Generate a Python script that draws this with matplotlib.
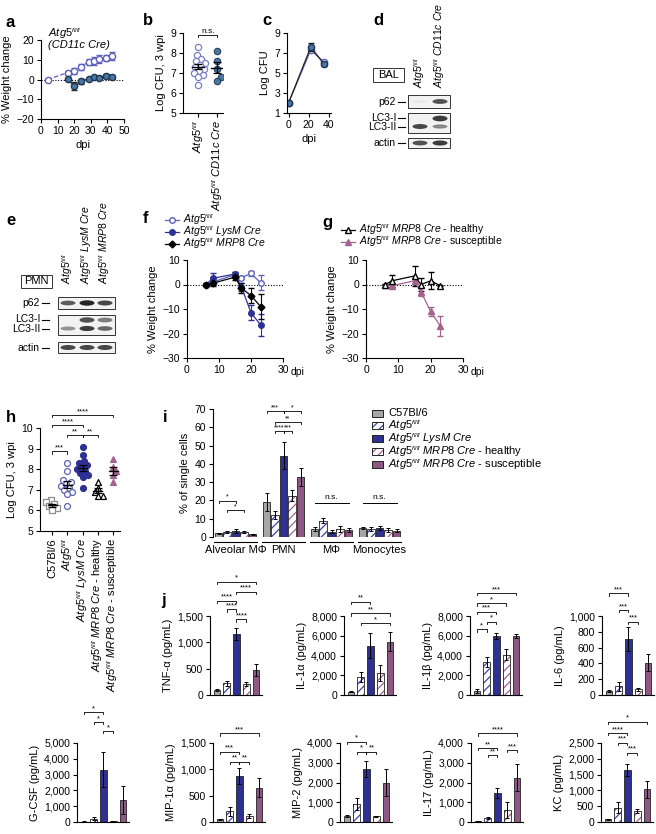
import numpy as np
import matplotlib
matplotlib.use('Agg')
import matplotlib.pyplot as plt
import matplotlib._mathtext as mtext
from matplotlib.patches import Rectangle, Ellipse
from matplotlib.ticker import FuncFormatter

plt.rcParams['font.family'] = ['Liberation Sans', 'DejaVu Sans']
plt.rcParams['mathtext.fontset'] = 'custom'
plt.rcParams['mathtext.rm'] = 'Liberation Sans'
plt.rcParams['mathtext.it'] = 'Liberation Sans:italic'
plt.rcParams['mathtext.bf'] = 'Liberation Sans:bold'
plt.rcParams['font.size'] = 7.5
plt.rcParams['axes.linewidth'] = 0.8
plt.rcParams['xtick.major.size'] = 3
plt.rcParams['ytick.major.size'] = 3
plt.rcParams['xtick.major.width'] = 0.8
plt.rcParams['ytick.major.width'] = 0.8
plt.rcParams['xtick.major.pad'] = 2
plt.rcParams['ytick.major.pad'] = 2
plt.rcParams['axes.labelpad'] = 3
plt.rcParams['hatch.linewidth'] = 0.9
# the fl/fl superscripts are very small in the original
mtext.SHRINK_FACTOR = 0.55

# colours
grey = '#a6a6a6'
navy = '#2e3192'
mauve = '#8f5783'
blue_h = '#3d42a8'
mauve_h = '#a5628f'
blue_o = '#5d62b8'
steel = '#4a78a6'

# labels
ATG = r'$\mathit{Atg5}^{\mathit{fl/fl}}$'
lab_cd11c = ATG + r' $\mathit{CD11c\ Cre}$'
lab_lysm = ATG + r' $\mathit{LysM\ Cre}$'
lab_mrp8 = ATG + r' $\mathit{MRP8\ Cre}$'
lab_healthy = lab_mrp8 + ' - healthy'
lab_susc = lab_mrp8 + ' - susceptible'
geno_labels = ['C57Bl/6', ATG, lab_lysm, lab_healthy, lab_susc]

# ---- panel a: weight change, CD11c Cre ----
a_days_ctrl = [4, 16, 20, 24, 29, 32, 35, 39, 43]
a_ctrl = [0, 3.5, 4.5, 6.5, 9, 9.5, 10.5, 11, 12]
a_ctrl_err = [0.3, 1, 1.5, 1.5, 1.5, 2, 2, 1.5, 2]
a_days_cko = [16, 20, 24, 29, 32, 35, 39, 43]
a_cko = [0.3, -3.5, -1, 0.5, 1.5, 1, 2, 1.5]
a_cko_err = [0.5, 2, 1.5, 0.5, 0.5, 0.5, 1, 1]

# ---- panel b: log CFU 3 wpi ----
b_ctrl = [8.3, 7.9, 7.7, 7.6, 7.5, 7.4, 7.3, 7.2, 7.1, 7.0, 6.9, 6.8, 6.4]
b_cko = [8.1, 7.6, 7.2, 6.8, 6.6]

# ---- panel c: log CFU over time ----
c_days = [0, 22, 35]
c_ctrl = [2, 7.3, 6.1]
c_cko = [2, 7.6, 5.9]
c_cko_err = [0.1, 0.4, 0.2]

# ---- western blots (band intensities 0..1 per lane) ----
d_p62 = [0.1, 0.8]
d_lc3i = [0.0, 0.9]
d_lc3ii = [0.85, 0.55]
d_actin = [0.8, 0.9]
e_p62 = [0.75, 1.0, 0.85]
e_lc3i = [0.0, 0.8, 0.6]
e_lc3ii = [0.5, 0.9, 0.7]
e_actin = [0.85, 0.85, 0.85]

# ---- panel f: weight change, LysM / MRP8 ----
f_days = [6, 8, 15, 17, 20, 23]
f_ctrl = [0, 1.0, 4.0, 2.8, 4.5, 0.7]
f_ctrl_err = [0.5, 1, 1, 0.5, 1, 3]
f_lysm = [0, 2.5, 4.3, -1, -11.5, -16.5]
f_lysm_err = [0.5, 2, 1, 1.5, 3, 4.5]
f_mrp8 = [0, 0.5, 3.0, -1.5, -4.5, -9]
f_mrp8_err = [0.5, 1, 1, 2, 3, 5]

# ---- panel g: MRP8 healthy / susceptible ----
g_days = [6, 8, 15, 17, 20, 23]
g_healthy = [0, 1.5, 3.5, 0, 1.5, -0.5]
g_healthy_err = [0.3, 2.5, 4, 2.5, 3.5, 0.3]
g_susc = [0, -0.5, 1.5, -3, -11, -17]
g_susc_err = [0.3, 0.5, 1, 1.5, 2, 4]

# ---- panel h: log CFU 3 wpi ----
h_c57 = [6.5, 6.4, 6.3, 6.2, 6.1, 6.0]
h_flfl = [8.3, 7.9, 7.5, 7.4, 7.3, 7.2, 7.1, 7.0, 6.9, 6.8, 6.2]
h_lysm = [9.1, 8.7, 8.4, 8.3, 8.2, 8.1, 8.0, 7.9, 7.8, 7.7, 7.6, 7.1]
h_healthy = [7.4, 7.1, 6.9, 6.7, 6.7]
h_susc = [8.5, 8.1, 7.9, 7.7, 7.4]
h_brackets = [(0, 4, 10.63, '****'), (0, 2, 10.15, '****'), (1, 2, 9.66, '**'),
              (2, 3, 9.66, '**'), (0, 1, 8.88, '***')]

# ---- panel i: % of single cells ----
i_groups = ['Alveolar MΦ', 'PMN', 'MΦ', 'Monocytes']
i_c57 = [2.0, 19.0, 4.5, 5.0]
i_flfl = [2.9, 12.0, 9.0, 4.5]
i_lysm = [3.4, 44.5, 3.0, 5.0]
i_healthy = [2.9, 22.5, 4.5, 4.0]
i_susc = [1.5, 33.0, 4.0, 3.5]
i_c57_err = [0.4, 5.0, 1.0, 0.5]
i_flfl_err = [0.5, 2.0, 1.5, 1.0]
i_lysm_err = [1.0, 7.5, 1.0, 1.0]
i_healthy_err = [0.5, 3.0, 1.5, 1.0]
i_susc_err = [0.3, 5.0, 1.0, 1.0]
i_brackets = [(0, 0, 2, 19.8, '*'), (0, 1, 3, 14.5, '*'),
              (1, 0, 2, 68.9, '***'), (1, 2, 4, 68.9, '*'), (1, 1, 4, 62.8, '**'),
              (1, 1, 2, 57.9, '****'), (1, 2, 3, 57.9, '***')]
i_ns = [(2, 18.6), (3, 18.6)]

# ---- panel j: cytokines (pg/mL) ----
j_names = ['TNF-α', 'IL-1α', 'IL-1β', 'IL-6', 'G-CSF', 'MIP-1α', 'MIP-2', 'IL-17', 'KC']
tnf = [90, 220, 1160, 210, 480]
tnf_err = [15, 40, 120, 40, 110]
il1a = [350, 1800, 5000, 2200, 5400]
il1a_err = [80, 500, 1300, 800, 950]
il1b = [450, 3300, 6000, 4100, 6000]
il1b_err = [200, 500, 300, 600, 200]
il6 = [50, 110, 710, 70, 410]
il6_err = [10, 60, 150, 15, 110]
gcsf = [30, 200, 3300, 40, 1400]
gcsf_err = [10, 100, 1100, 20, 900]
mip1a = [50, 200, 880, 120, 650]
mip1a_err = [10, 80, 150, 40, 180]
mip2 = [300, 900, 2700, 280, 2000]
mip2_err = [30, 300, 400, 30, 700]
il17 = [50, 220, 1450, 600, 2250]
il17_err = [10, 50, 250, 400, 700]
kc = [80, 450, 1650, 350, 1030]
kc_err = [20, 170, 200, 70, 280]
j_tops = [1500, 8000, 8000, 1000, 5000, 1500, 4000, 4000, 2500]
j_steps = [500, 2000, 2000, 200, 1000, 500, 1000, 1000, 500]
j_brackets = [
    [(0, 4, 2151, '*'), (2, 4, 1961, '****'), (0, 2, 1790, '****'), (1, 2, 1627, '****'), (2, 3, 1437, '****')],
    [(0, 2, 9448, '**'), (0, 4, 8273, '**'), (1, 4, 7261, '*')],
    [(0, 4, 10299, '***'), (0, 3, 9286, '*'), (0, 2, 8439, '***'), (1, 2, 7423, '*'), (0, 1, 6653, '*')],
    [(0, 2, 1287, '***'), (1, 2, 1076, '***'), (2, 3, 928, '***')],
    [(0, 2, 6962, '*'), (1, 2, 6329, '*'), (2, 3, 5759, '*')],
    [(0, 4, 1684, '***'), (0, 2, 1335, '***'), (1, 2, 1145, '**'), (2, 3, 1145, '**')],
    [(0, 2, 4066, '*'), (1, 2, 3559, '*'), (2, 3, 3559, '**')],
    [(0, 4, 4491, '****'), (0, 2, 3732, '**'), (3, 4, 3646, '***'), (1, 2, 3392, '**')],
    [(0, 4, 3174, '*'), (0, 2, 2807, '****'), (1, 2, 2509, '***'), (2, 3, 2193, '***')],
]

W, H = 656, 834
fig = plt.figure(figsize=(W / 100, H / 100), dpi=100)

# overlay in pixel coordinates for letters, blots and legends
ov = fig.add_axes([0, 0, 1, 1], zorder=-5)
ov.set_xlim(0, W)
ov.set_ylim(H, 0)
ov.axis('off')


def px_axes(l, t, r, b):
    ax = fig.add_axes([l / W, 1 - b / H, (r - l) / W, (b - t) / H])
    ax.patch.set_alpha(0)
    ax.spines[['top', 'right']].set_visible(False)
    return ax


def letter(x, y, s):
    ov.text(x, y, s, fontsize=12, fontweight='bold', ha='left', va='center')


def swarm(vals, xpx, ypx, d=5.2):
    placed = []
    offs = np.zeros(len(vals))
    for i in np.argsort(vals):
        y = vals[i] * ypx
        k = 0
        found = None
        while found is None:
            cands = [0.0] if k == 0 else [float(k), -float(k)]
            for c in cands:
                if all(np.hypot(c - px, y - py) >= d for px, py in placed):
                    found = c
                    break
            k += 1
        placed.append((found, y))
        offs[i] = found / xpx
    return offs


def mean_sem(ax, x, vals, hw=0.32):
    m = np.mean(vals)
    s = np.std(vals, ddof=1) / np.sqrt(len(vals))
    ax.plot([x - hw, x + hw], [m, m], color='k', lw=1, zorder=5)
    ax.errorbar(x, m, yerr=s, fmt='none', ecolor='k', capsize=3, elinewidth=0.9,
                capthick=0.9, zorder=5)


def bracket(ax, x1, x2, y, label, tick, fs=5.5):
    ax.plot([x1, x1, x2, x2], [y - tick, y, y, y - tick], color='k', lw=0.6,
            clip_on=False)
    ax.text((x1 + x2) / 2, y, label, ha='center', va='bottom', fontsize=fs,
            clip_on=False)


bar_styles = [(grey, False), (blue_h, True), (navy, False), (mauve_h, True), (mauve, False)]


def draw_bar(ax, x, h, w, k):
    col, hatched = bar_styles[k]
    if hatched:
        ax.bar(x, h, w, color='white', edgecolor=col, hatch='////', lw=0)
        ax.bar(x, h, w, fill=False, edgecolor='#222222', lw=0.6)
    else:
        ax.bar(x, h, w, color=col, edgecolor='#222222', lw=0.6)


def legend_patch(x, y, k):
    col, hatched = bar_styles[k]
    if hatched:
        ov.add_patch(Rectangle((x, y - 3.5), 11, 7, fc='white', ec=col, hatch='////', lw=0))
        ov.add_patch(Rectangle((x, y - 3.5), 11, 7, fill=False, ec='#222222', lw=0.7))
    else:
        ov.add_patch(Rectangle((x, y - 3.5), 11, 7, fc=col, ec='#222222', lw=0.7))


def blot(x0, x1, y0, y1, lanes, bands, lw_band=15):
    ov.add_patch(Rectangle((x0, y0), x1 - x0, y1 - y0, fc='#f2f2f2', ec='#333333', lw=0.7))
    for yc, hgt, vals in bands:
        for xc, v in zip(lanes, vals):
            if v <= 0.05:
                continue
            g = 1 - 0.85 * v
            ov.add_patch(Ellipse((xc, yc), lw_band, hgt * (0.6 + 0.6 * v),
                                 fc=(g, g, g), ec='none'))


def blot_label(xr, y, s):
    ov.text(xr, y, s, ha='right', va='center', fontsize=7.5)
    ov.plot([xr + 2, xr + 9], [y, y], color='k', lw=0.8)


# ================= panel a =================
letter(6, 22, 'a')
ax = px_axes(41, 40, 124, 119)
ax.axhline(0, color='k', ls=(0, (1, 1.5)), lw=0.8)
ax.errorbar(a_days_ctrl, a_ctrl, yerr=a_ctrl_err, fmt='o', ls='--', color=blue_o,
            mfc='white', mec=blue_o, ms=4.5, lw=0.9, capsize=2, elinewidth=0.8)
ax.errorbar(a_days_cko, a_cko, yerr=a_cko_err, fmt='o', ls='-', color='#222222',
            mfc=steel, mec='#1f3550', ms=4.5, lw=0.9, capsize=2, elinewidth=0.8)
ax.set_xlim(0, 50)
ax.set_ylim(-20, 20)
ax.set_xticks(range(0, 51, 10))
ax.set_yticks([-20, -10, 0, 10, 20])
ax.set_ylabel('% Weight change', fontsize=8)
ax.set_xlabel('dpi', fontsize=8)
ax.text(4, 23, ATG, fontsize=8, va='center')
ax.text(4, 17.5, '(CD11c Cre)', fontsize=8, style='italic', va='center')

# ================= panel b =================
letter(143, 20, 'b')
ax = px_axes(183, 33, 223, 113)
off = swarm(np.array(b_ctrl), 19, 20)
ax.scatter(0 + off, b_ctrl, s=20, facecolors='white', edgecolors='#7b7fc8', lw=0.9, zorder=3)
off = swarm(np.array(b_cko), 19, 20)
ax.scatter(1 + off, b_cko, s=22, facecolors=steel, edgecolors='#1f3550', lw=0.7, zorder=3)
mean_sem(ax, 0, b_ctrl)
mean_sem(ax, 1, b_cko)
bracket(ax, 0, 1, 8.9, 'n.s.', 0.12, fs=6)
ax.set_xlim(-0.8, 1.3)
ax.set_ylim(5, 9)
ax.set_yticks([5, 6, 7, 8, 9])
ax.set_xticks([0, 1])
ax.set_xticklabels([ATG, lab_cd11c], rotation=90, fontsize=8)
ax.set_ylabel('Log CFU, 3 wpi', fontsize=8)

# ================= panel c =================
letter(262, 20, 'c')
ax = px_axes(287, 33, 331, 113)
ax.plot(c_days, c_ctrl, 'o-', color=blue_o, mfc='white', mec=blue_o, ms=4.5, lw=0.9)
ax.errorbar(c_days, c_cko, yerr=c_cko_err, fmt='o', ls='-', color='#222222',
            mfc=steel, mec='#1f3550', ms=4.5, lw=0.9, capsize=2, elinewidth=0.8)
ax.set_xlim(-1.5, 42)
ax.set_ylim(1, 9)
ax.set_yticks([1, 3, 5, 7, 9])
ax.set_xticks([0, 20, 40])
ax.set_ylabel('Log CFU', fontsize=8)
ax.set_xlabel('dpi', fontsize=8)

# ================= panel d (blot) =================
letter(373, 20, 'd')
ov.add_patch(Rectangle((373, 68), 31, 14, fill=False, ec='#333333', lw=0.7))
ov.text(388.5, 75, 'BAL', ha='center', va='center', fontsize=8)
for xc, lab in zip([420, 440], [ATG, lab_cd11c]):
    ov.text(xc, 88, lab, rotation=90, ha='center', va='bottom', fontsize=7.5)
d_lanes = [420, 440]
blot(408, 450, 95, 108, d_lanes, [(101.5, 4.5, d_p62)])
blot(408, 450, 113, 133, d_lanes, [(118.5, 5, d_lc3i), (126.5, 4.5, d_lc3ii)])
blot(408, 450, 138, 148, d_lanes, [(143, 4.5, d_actin)])
blot_label(396, 101.5, 'p62')
blot_label(396, 117.5, 'LC3-I')
blot_label(396, 127, 'LC3-II')
blot_label(396, 143, 'actin')

# ================= panel e (blot) =================
letter(6, 220, 'e')
ov.add_patch(Rectangle((21, 275), 31, 13, fill=False, ec='#333333', lw=0.7))
ov.text(36.5, 281.5, 'PMN', ha='center', va='center', fontsize=8)
e_lanes = [68, 87, 105]
for xc, lab in zip(e_lanes, [ATG, lab_lysm, lab_mrp8]):
    ov.text(xc, 284, lab, rotation=90, ha='center', va='bottom', fontsize=7.5)
blot(58, 115, 297, 309, e_lanes, [(303, 4.5, e_p62)])
blot(58, 115, 315, 335, e_lanes, [(320, 5, e_lc3i), (328.5, 4.5, e_lc3ii)])
blot(58, 115, 342, 353, e_lanes, [(347.5, 4.5, e_actin)])
blot_label(40, 303, 'p62')
blot_label(40, 319.5, 'LC3-I')
blot_label(40, 328.5, 'LC3-II')
blot_label(40, 347.5, 'actin')


def legend_line(x, y, color, marker, mfc, text, ms=4):
    ov.plot([x - 7, x + 7], [y, y], color=color, lw=0.9)
    ov.plot([x], [y], marker=marker, color=color, mfc=mfc, mec=color, ms=ms)
    ov.text(x + 11, y, text, va='center', fontsize=7.5)


# ================= panel f =================
letter(143, 218, 'f')
legend_line(172, 220, blue_o, 'o', 'white', ATG)
legend_line(172, 232, navy, 'o', navy, lab_lysm)
legend_line(172, 244, 'k', 'D', 'k', lab_mrp8, ms=3.5)
ax = px_axes(187, 260, 283, 358)
ax.axhline(0, color='k', ls=(0, (1, 1.5)), lw=0.8)
ax.errorbar(f_days, f_ctrl, yerr=f_ctrl_err, fmt='o', ls='-', color=blue_o, mfc='white',
            mec=blue_o, ms=4, lw=0.9, capsize=2, elinewidth=0.8)
ax.errorbar(f_days, f_lysm, yerr=f_lysm_err, fmt='o', ls='-', color=navy, mfc=navy,
            mec=navy, ms=4, lw=0.9, capsize=2, elinewidth=0.8)
ax.errorbar(f_days, f_mrp8, yerr=f_mrp8_err, fmt='D', ls='-', color='k', mfc='k',
            mec='k', ms=3.5, lw=0.9, capsize=2, elinewidth=0.8)
ax.set_xlim(0, 30)
ax.set_ylim(-30, 10)
ax.set_xticks([0, 10, 20, 30])
ax.set_yticks([-30, -20, -10, 0, 10])
ax.set_ylabel('% Weight change', fontsize=8)
ov.text(291, 372, 'dpi', va='center', fontsize=7.5)

# ================= panel g =================
letter(322, 222, 'g')
legend_line(348, 230, 'k', '^', 'white', lab_healthy)
legend_line(348, 242, mauve_h, '^', mauve_h, lab_susc)
ax = px_axes(366, 260, 463, 358)
ax.axhline(0, color='k', ls=(0, (1, 1.5)), lw=0.8)
ax.errorbar(g_days, g_susc, yerr=g_susc_err, fmt='^', ls='-', color=mauve_h, mfc=mauve_h,
            mec=mauve_h, ms=4, lw=0.9, capsize=2, elinewidth=0.8)
ax.errorbar(g_days, g_healthy, yerr=g_healthy_err, fmt='^', ls='-', color='k', mfc='white',
            mec='k', ms=4, lw=0.9, capsize=2, elinewidth=0.8)
ax.set_xlim(0, 30)
ax.set_ylim(-30, 10)
ax.set_xticks([0, 10, 20, 30])
ax.set_yticks([-30, -20, -10, 0, 10])
ax.set_ylabel('% Weight change', fontsize=8)
ov.text(471, 372, 'dpi', va='center', fontsize=7.5)

# ================= panel h =================
letter(6, 417, 'h')
ax = px_axes(40, 428, 120, 531)
h_sets = [h_c57, h_flfl, h_lysm, h_healthy, h_susc]
h_marks = [('s', 'white', '#8c8c8c'), ('o', 'white', blue_o), ('o', navy, navy),
           ('^', 'white', 'k'), ('^', mauve_h, mauve_h)]
for k, (vals, (m, fc, ec)) in enumerate(zip(h_sets, h_marks)):
    off = swarm(np.array(vals), 15.2, 20.6, d=5.0)
    ax.scatter(k + off, vals, s=18, marker=m, facecolors=fc, edgecolors=ec, lw=0.9, zorder=3)
    mean_sem(ax, k, vals, hw=0.3)
for x1, x2, y, lab in h_brackets:
    bracket(ax, x1, x2, y, lab, 0.12)
ax.set_xlim(-0.8, 4.45)
ax.set_ylim(5, 10)
ax.set_yticks([5, 6, 7, 8, 9, 10])
ax.set_xticks(range(5))
ax.set_xticklabels(geno_labels, rotation=90, fontsize=8)
ax.set_ylabel('Log CFU, 3 wpi', fontsize=8)

# ================= panel i =================
letter(163, 417, 'i')
ax = px_axes(213, 409, 405, 537)
i_sets = [i_c57, i_flfl, i_lysm, i_healthy, i_susc]
i_errs = [i_c57_err, i_flfl_err, i_lysm_err, i_healthy_err, i_susc_err]
bw = 0.177
for k in range(5):
    for g in range(4):
        x = g + (k - 2) * bw
        draw_bar(ax, x, i_sets[k][g], 0.15, k)
        ax.errorbar(x, i_sets[k][g], yerr=i_errs[k][g], fmt='none', ecolor='k',
                    elinewidth=0.7, capsize=1.5, capthick=0.7)
for g, k1, k2, y, lab in i_brackets:
    bracket(ax, g + (k1 - 2) * bw, g + (k2 - 2) * bw, y, lab, 1.0, fs=5)
for g, y in i_ns:
    ax.plot([g - 2 * bw, g + 2 * bw], [y, y], color='k', lw=0.7)
    ax.text(g, y + 1, 'n.s.', ha='center', va='bottom', fontsize=6)
trans = ax.get_xaxis_transform()
for g, name in enumerate(i_groups):
    ax.plot([g - 2.5 * bw, g + 2.5 * bw], [-0.04, -0.04], color='k', lw=0.8,
            transform=trans, clip_on=False)
    ax.text(g, -0.065, name, ha='center', va='top', fontsize=8, transform=trans)
ax.spines['bottom'].set_visible(False)
ax.set_xticks([])
ax.set_xlim(-0.47, 3.53)
ax.set_ylim(0, 70)
ax.set_yticks(range(0, 71, 10))
ax.set_ylabel('% of single cells', fontsize=8)
for r, lab in enumerate(geno_labels):
    y = 413 + r * 12.8
    legend_patch(372, y, r)
    ov.text(388, y, lab, va='center', fontsize=8)

# ================= panel j =================
letter(161, 600, 'j')
j_vals = [tnf, il1a, il1b, il6, gcsf, mip1a, mip2, il17, kc]
j_errs = [tnf_err, il1a_err, il1b_err, il6_err, gcsf_err, mip1a_err, mip2_err, il17_err, kc_err]
j_lefts = [210, 344, 470, 602, 77, 213, 340, 471, 601]
j_rows = [(616, 695)] * 4 + [(743, 822)] * 5
comma = FuncFormatter(lambda v, _: f'{int(v):,}')
for n in range(9):
    t, b = j_rows[n]
    ax = px_axes(j_lefts[n], t, j_lefts[n] + 52, b)
    for k in range(5):
        draw_bar(ax, k, j_vals[n][k], 0.68, k)
        ax.errorbar(k, j_vals[n][k], yerr=j_errs[n][k], fmt='none', ecolor='k',
                    elinewidth=0.7, capsize=1.5, capthick=0.7)
    tick = j_tops[n] * 2.2 / 79
    for x1, x2, y, lab in j_brackets[n]:
        bracket(ax, x1, x2, y, lab, tick, fs=5.5)
    ax.set_xlim(-0.7, 4.6)
    ax.set_ylim(0, j_tops[n])
    ax.set_yticks(np.arange(0, j_tops[n] + 1, j_steps[n]))
    ax.yaxis.set_major_formatter(comma)
    ax.set_xticks([])
    ax.set_ylabel(j_names[n] + ' (pg/mL)', fontsize=8)

fig.savefig('out.png', dpi=100)
